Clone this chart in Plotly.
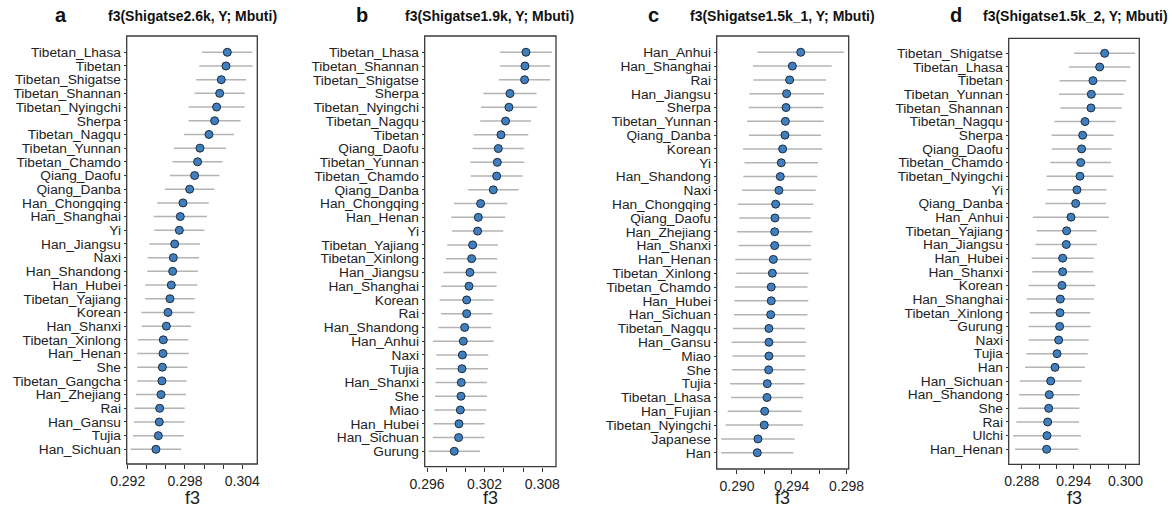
import plotly.graph_objects as go

# ---------------- data ----------------
pops_a = ["Tibetan_Lhasa", "Tibetan", "Tibetan_Shigatse", "Tibetan_Shannan", "Tibetan_Nyingchi",
          "Sherpa", "Tibetan_Nagqu", "Tibetan_Yunnan", "Tibetan_Chamdo", "Qiang_Daofu",
          "Qiang_Danba", "Han_Chongqing", "Han_Shanghai", "Yi", "Han_Jiangsu", "Naxi",
          "Han_Shandong", "Han_Hubei", "Tibetan_Yajiang", "Korean", "Han_Shanxi",
          "Tibetan_Xinlong", "Han_Henan", "She", "Tibetan_Gangcha", "Han_Zhejiang", "Rai",
          "Han_Gansu", "Tujia", "Han_Sichuan"]
f3_a = [0.30243, 0.30229, 0.30180, 0.30163, 0.30131, 0.30110, 0.30051, 0.29957, 0.29932, 0.29901,
        0.29849, 0.29779, 0.29751, 0.29741, 0.29692, 0.29678, 0.29671, 0.29657, 0.29643, 0.29622,
        0.29605, 0.29573, 0.29570, 0.29563, 0.29559, 0.29549, 0.29535, 0.29531, 0.29521, 0.29496]
err_a = [0.00262, 0.00279, 0.00262, 0.00262, 0.00293, 0.00272, 0.00262, 0.00272, 0.00262, 0.00258,
         0.00258, 0.00269, 0.00279, 0.00262, 0.00265, 0.00269, 0.00265, 0.00272, 0.00258, 0.00279,
         0.00258, 0.00262, 0.00269, 0.00262, 0.00258, 0.00262, 0.00262, 0.00265, 0.00265, 0.00265]

pops_b = ["Tibetan_Lhasa", "Tibetan_Shannan", "Tibetan_Shigatse", "Sherpa", "Tibetan_Nyingchi",
          "Tibetan_Nagqu", "Tibetan", "Qiang_Daofu", "Tibetan_Yunnan", "Tibetan_Chamdo",
          "Qiang_Danba", "Han_Chongqing", "Han_Henan", "Yi", "Tibetan_Yajiang", "Tibetan_Xinlong",
          "Han_Jiangsu", "Han_Shanghai", "Korean", "Rai", "Han_Shandong", "Han_Anhui", "Naxi",
          "Tujia", "Han_Shanxi", "She", "Miao", "Han_Hubei", "Han_Sichuan", "Gurung"]
f3_b = [0.30630, 0.30620, 0.30616, 0.30464, 0.30453, 0.30418, 0.30370, 0.30342, 0.30332, 0.30325,
        0.30290, 0.30158, 0.30134, 0.30127, 0.30075, 0.30065, 0.30047, 0.30037, 0.30013, 0.30013,
        0.29992, 0.29978, 0.29968, 0.29964, 0.29957, 0.29954, 0.29947, 0.29933, 0.29929, 0.29884]
err_b = [0.00272, 0.00262, 0.00267, 0.00277, 0.00291, 0.00264, 0.00284, 0.00267, 0.00281, 0.00270,
         0.00264, 0.00277, 0.00281, 0.00267, 0.00264, 0.00267, 0.00277, 0.00288, 0.00281, 0.00267,
         0.00274, 0.00316, 0.00270, 0.00270, 0.00267, 0.00270, 0.00270, 0.00267, 0.00270, 0.00267]

pops_c = ["Han_Anhui", "Han_Shanghai", "Rai", "Han_Jiangsu", "Sherpa", "Tibetan_Yunnan",
          "Qiang_Danba", "Korean", "Yi", "Han_Shandong", "Naxi", "Han_Chongqing", "Qiang_Daofu",
          "Han_Zhejiang", "Han_Shanxi", "Han_Henan", "Tibetan_Xinlong", "Tibetan_Chamdo",
          "Han_Hubei", "Han_Sichuan", "Tibetan_Nagqu", "Han_Gansu", "Miao", "She", "Tujia",
          "Tibetan_Lhasa", "Han_Fujian", "Tibetan_Nyingchi", "Japanese", "Han"]
f3_c = [0.29465, 0.29404, 0.29384, 0.29362, 0.29358, 0.29353, 0.29350, 0.29333, 0.29323, 0.29316,
        0.29306, 0.29282, 0.29277, 0.29275, 0.29275, 0.29265, 0.29258, 0.29250, 0.29250, 0.29246,
        0.29233, 0.29233, 0.29233, 0.29231, 0.29221, 0.29219, 0.29202, 0.29199, 0.29153, 0.29148]
err_c = [0.00316, 0.00287, 0.00265, 0.00272, 0.00272, 0.00280, 0.00263, 0.00289, 0.00268, 0.00270,
         0.00268, 0.00275, 0.00260, 0.00275, 0.00263, 0.00277, 0.00263, 0.00265, 0.00270, 0.00268,
         0.00263, 0.00272, 0.00265, 0.00268, 0.00272, 0.00263, 0.00270, 0.00282, 0.00268, 0.00263]

pops_d = ["Tibetan_Shigatse", "Tibetan_Lhasa", "Tibetan", "Tibetan_Yunnan", "Tibetan_Shannan",
          "Tibetan_Nagqu", "Sherpa", "Qiang_Daofu", "Tibetan_Chamdo", "Tibetan_Nyingchi", "Yi",
          "Qiang_Danba", "Han_Anhui", "Tibetan_Yajiang", "Han_Jiangsu", "Han_Hubei", "Han_Shanxi",
          "Korean", "Han_Shanghai", "Tibetan_Xinlong", "Gurung", "Naxi", "Tujia", "Han",
          "Han_Sichuan", "Han_Shandong", "She", "Rai", "Ulchi", "Han_Henan"]
f3_d = [0.29758, 0.29700, 0.29623, 0.29604, 0.29600, 0.29531, 0.29504, 0.29492, 0.29481, 0.29473,
        0.29438, 0.29423, 0.29369, 0.29319, 0.29315, 0.29273, 0.29273, 0.29265, 0.29246, 0.29242,
        0.29238, 0.29227, 0.29208, 0.29185, 0.29135, 0.29119, 0.29112, 0.29100, 0.29092, 0.29088]
err_d = [0.00352, 0.00354, 0.00385, 0.00373, 0.00354, 0.00354, 0.00358, 0.00346, 0.00350, 0.00385,
         0.00342, 0.00350, 0.00438, 0.00346, 0.00354, 0.00358, 0.00350, 0.00385, 0.00388, 0.00350,
         0.00358, 0.00346, 0.00354, 0.00346, 0.00358, 0.00350, 0.00354, 0.00362, 0.00392, 0.00365]

panel_letters = ["a", "b", "c", "d"]
panel_titles = ["f3(Shigatse2.6k, Y; Mbuti)", "f3(Shigatse1.9k, Y; Mbuti)",
                "f3(Shigatse1.5k_1, Y; Mbuti)", "f3(Shigatse1.5k_2, Y; Mbuti)"]
xtick_vals = [[0.292, 0.298, 0.304], [0.296, 0.302, 0.308],
              [0.290, 0.294, 0.298], [0.288, 0.294, 0.300]]
xtick_text = [["0.292", "0.298", "0.304"], ["0.296", "0.302", "0.308"],
              ["0.290", "0.294", "0.298"], ["0.288", "0.294", "0.300"]]
x_title = "f3"

# ---------------- layout geometry ----------------
W, H = 1172, 510
px_x = [(126.7, 257.3), (424.7, 556.0), (716.7, 848.7), (1008.7, 1139.3)]
px_y = [(36, 464), (36, 466.7), (36, 469), (38.3, 464.3)]
x_ranges = [(0.29190, 0.30557), (0.29576, 0.30943), (0.28852, 0.29815), (0.2865, 0.30158)]
y_ranges = [(30.07, -1.19), (30.12, -1.18), (30.18, -1.18), (30.10, -1.10)]
minor_dtick = [0.002, 0.002, 0.002, 0.002]
letter_x = [61, 362, 653, 956]
title_x = [192, 489, 782, 1075]
xtitle_y = 498

pops_all = [pops_a, pops_b, pops_c, pops_d]
f3_all = [f3_a, f3_b, f3_c, f3_d]
err_all = [err_a, err_b, err_c, err_d]

FONT = "Liberation Sans, Arial, sans-serif"
fig = go.Figure()
annotations = []
shapes = []
axes = {}

for i in range(4):
    xa = "x" if i == 0 else f"x{i+1}"
    ya = "y" if i == 0 else f"y{i+1}"
    n = len(pops_all[i])
    fig.add_trace(go.Scatter(
        x=f3_all[i], y=list(range(n)), mode="markers",
        xaxis=xa, yaxis=ya, showlegend=False,
        marker=dict(size=8, color="#3f7fbf", line=dict(color="#1d2b3a", width=1)),
        error_x=dict(type="data", array=err_all[i], color="#b4b4b4", thickness=1.5, width=0),
    ))
    xd = [px_x[i][0] / W, px_x[i][1] / W]
    yd = [1 - px_y[i][1] / H, 1 - px_y[i][0] / H]
    key = "xaxis" if i == 0 else f"xaxis{i+1}"
    ykey = "yaxis" if i == 0 else f"yaxis{i+1}"
    axes[key] = dict(
        domain=xd, range=list(x_ranges[i]), anchor=ya, automargin=False,
        tickvals=xtick_vals[i], ticktext=xtick_text[i],
        ticks="outside", ticklen=4, tickwidth=1, tickcolor="#333",
        minor=dict(dtick=minor_dtick[i], tick0=xtick_vals[i][0], ticks="outside",
                   ticklen=4, tickwidth=1, tickcolor="#333", showgrid=False),
        showline=False, showgrid=False, zeroline=False,
        tickfont=dict(family=FONT, size=14, color="#222"),
    )
    axes[ykey] = dict(
        domain=yd, range=list(y_ranges[i]), anchor=xa, automargin=False,
        tickvals=list(range(n)), ticktext=pops_all[i],
        ticks="outside", ticklen=2, tickwidth=1, tickcolor="#333",
        showline=False, showgrid=False, zeroline=False,
        tickfont=dict(family=FONT, size=13.7, color="#222"),
    )
    shapes.append(dict(type="rect", xref=f"{xa} domain", yref=f"{ya} domain",
                       x0=0, x1=1, y0=0, y1=1, line=dict(color="#3a3a3a", width=1.3),
                       fillcolor="rgba(0,0,0,0)", layer="above"))
    annotations.append(dict(text=f"<b>{panel_letters[i]}</b>", x=letter_x[i] / W, y=1 - 15 / H,
                            xref="paper", yref="paper", xanchor="center", yanchor="middle",
                            showarrow=False, font=dict(family=FONT, size=20, color="#111")))
    annotations.append(dict(text=f"<b>{panel_titles[i]}</b>", x=title_x[i] / W, y=1 - 16 / H,
                            xref="paper", yref="paper", xanchor="center", yanchor="middle",
                            showarrow=False, font=dict(family=FONT, size=14, color="#111")))
    annotations.append(dict(text=x_title, x=(px_x[i][0] + px_x[i][1]) / 2 / W,
                            y=1 - xtitle_y / H, xref="paper", yref="paper",
                            xanchor="center", yanchor="middle", showarrow=False,
                            font=dict(family=FONT, size=18, color="#222")))

fig.update_layout(
    template="none",
    width=W, height=H, margin=dict(l=0, r=0, t=0, b=0),
    paper_bgcolor="white", plot_bgcolor="white",
    annotations=annotations, shapes=shapes, **axes,
)
fig.write_html("out.html", config={"displayModeBar": False},
               post_script="document.body.style.margin='0';document.body.style.overflow='hidden';")
